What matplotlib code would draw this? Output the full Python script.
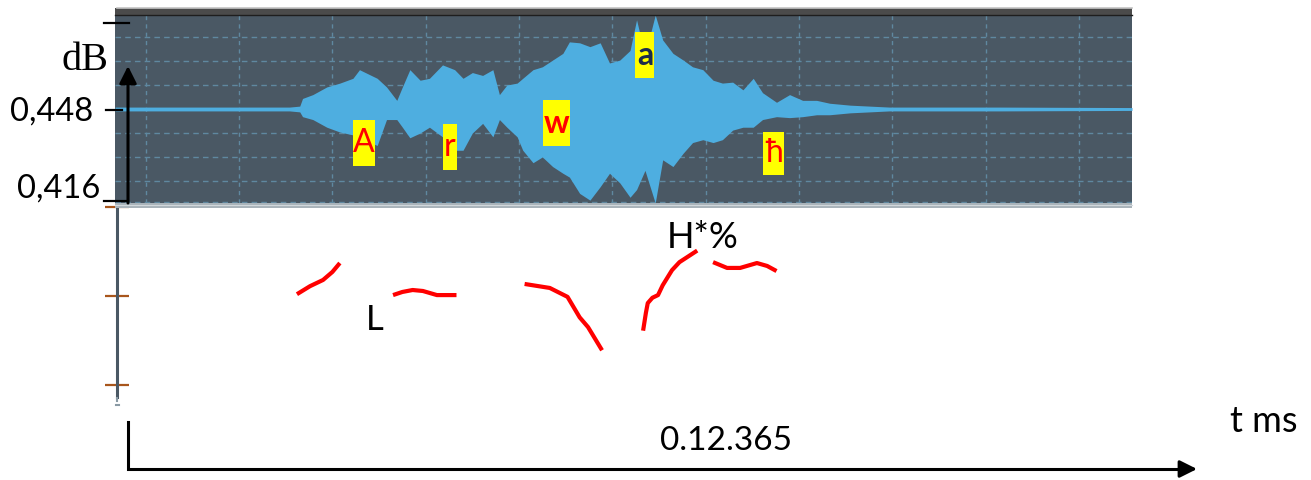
import matplotlib
matplotlib.use("Agg")
import matplotlib.pyplot as plt
from matplotlib.patches import Rectangle

W, H, DPI = 1311, 480, 100

# waveform envelope (time in ms, normalised amplitude)
wave_t = [-33, 58, 154, 165, 168, 179, 194, 208, 222, 229, 248, 258, 269, 275, 283,
          294, 304, 318, 331, 340, 350, 361, 372, 379, 387, 398, 404, 415, 425, 436,
          447, 454, 465, 476, 487, 497, 508, 519, 526, 535, 546, 554, 565, 576, 586,
          597, 608, 618, 629, 640, 651, 661, 676, 690, 704, 719, 733, 755, 776, 797,
          819, 915, 1057]
wave_hi = [0.02, 0.02, 0.02, 0.03, 0.11, 0.15, 0.23, 0.27, 0.32, 0.41, 0.32, 0.23, 0.09, 0.23, 0.41,
           0.30, 0.32, 0.46, 0.41, 0.32, 0.38, 0.35, 0.41, 0.15, 0.25, 0.27, 0.32, 0.41, 0.44, 0.51,
           0.58, 0.70, 0.69, 0.65, 0.69, 0.48, 0.51, 0.61, 0.93, 0.56, 0.98, 0.72, 0.58, 0.51, 0.44,
           0.41, 0.30, 0.27, 0.28, 0.20, 0.32, 0.17, 0.07, 0.15, 0.09, 0.09, 0.06, 0.04, 0.03, 0.02,
           0.02, 0.02, 0.015]
wave_lo = [-0.02, -0.02, -0.02, -0.03, -0.08, -0.11, -0.19, -0.24, -0.27, -0.30, -0.38, -0.11, -0.11, -0.19, -0.30,
           -0.25, -0.19, -0.29, -0.43, -0.43, -0.25, -0.15, -0.29, -0.11, -0.19, -0.29, -0.43, -0.56, -0.50, -0.60,
           -0.67, -0.71, -0.88, -0.95, -0.81, -0.67, -0.77, -0.92, -0.84, -0.64, -0.98, -0.53, -0.60, -0.46, -0.35,
           -0.32, -0.35, -0.32, -0.22, -0.19, -0.19, -0.11, -0.08, -0.09, -0.08, -0.06, -0.06, -0.04, -0.03, -0.02,
           -0.02, -0.02, -0.015]

# pitch track fragments (ms, Hz)
pitch_t = [
    [162, 176, 190, 200, 208],
    [265, 275, 286, 297, 312, 323, 333],
    [406, 433, 452, 465, 474, 489],
    [533, 536, 538, 543, 549, 554, 564, 572, 591],
    [608, 623, 637, 655, 666, 676],
]
pitch_hz = [
    [202, 211, 218, 227, 237],
    [201, 204.5, 206.7, 205.6, 201, 201, 201],
    [213.5, 209, 199, 176, 165, 139],
    [161, 181, 192, 198, 201, 212, 229, 238, 251],
    [238, 231.5, 231.5, 237, 233.7, 228],
]

phones = ["A", "r", "w", "a", "ħ"]
phone_t = [234, 326, 440, 535, 673]
phone_amp = [-0.35, -0.40, -0.15, 0.56, -0.46]
phone_colors = ["red", "red", "red", "#1c2c4c", "red"]
phone_weight = ["normal", "normal", "bold", "bold", "normal"]
phone_box_w = [23.6, 15, 29, 20.4, 22.5]  # ms
phone_box_h = [0.48, 0.48, 0.48, 0.48, 0.45]

grid_t = list(range(0, 1001, 100))
grid_amp = [-0.97, -0.75, -0.5, -0.25, 0, 0.25, 0.5, 0.75]
pitch_ticks = [100, 200, 300]


def box(x0, y0, x1, y1):
    return [x0 / W, 1 - y1 / H, (x1 - x0) / W, (y1 - y0) / H]


fig = plt.figure(figsize=(W / DPI, H / DPI), dpi=DPI)
fig.patch.set_facecolor("white")
sans = ["Lato", "DejaVu Sans"]

# waveform panel
ax = fig.add_axes(box(115, 15, 1132, 203))
ax.set_facecolor("#4a5864")
ax.set_xlim(-33, 1057)
ax.set_ylim(-0.98, 0.98)
for t in grid_t:
    ax.axvline(t, color="#5f88a0", lw=1, dashes=(3, 3), zorder=1)
for a in grid_amp:
    ax.axhline(a, color="#5f88a0", lw=1, dashes=(4, 3), zorder=1)
ax.fill_between(wave_t, wave_lo, wave_hi, color="#4eaee0", lw=0, zorder=2)
for s, t, a, c, fw, bw, bh in zip(phones, phone_t, phone_amp, phone_colors,
                                  phone_weight, phone_box_w, phone_box_h):
    ax.add_patch(Rectangle((t - bw / 2, a - bh / 2), bw, bh, color="yellow", lw=0, zorder=3))
    ax.text(t, a, s, color=c, fontsize=23, family=sans, weight=fw,
            ha="center", va="center", zorder=4)
ax.set_xticks([])
ax.set_yticks([])
for sp in ax.spines.values():
    sp.set_visible(False)

# pitch panel
axp = fig.add_axes(box(115, 205, 1132, 397))
axp.set_facecolor("none")
axp.set_xlim(-33, 1057)
axp.set_ylim(86.5, 302.2)
for t, hz in zip(pitch_t, pitch_hz):
    axp.plot(t, hz, color="red", lw=3, solid_capstyle="butt")
axp.text(245, 173, "L", fontsize=25, family=sans, ha="center", va="center")
axp.text(597, 266, "H*%", fontsize=26, family=sans, ha="center", va="center")
for k in ["top", "right", "bottom"]:
    axp.spines[k].set_visible(False)
axp.spines["left"].set_color("#4a5864")
axp.spines["left"].set_linewidth(2.2)
axp.spines["left"].set_position(("outward", -1.5))
axp.set_yticks(pitch_ticks)
axp.set_yticklabels([])
axp.set_xticks([])
axp.tick_params(axis="y", direction="inout", length=17, width=1.6, color="#a8561c")

# overlay for the hand-drawn axes and labels (pixel coordinates)
ov = fig.add_axes([0, 0, 1, 1], zorder=10)
ov.set_xlim(0, W)
ov.set_ylim(H, 0)
ov.axis("off")
ov.patch.set_visible(False)

ov.add_patch(Rectangle((115, 8), 1017, 7, color="#4b4b4b", lw=0))
ov.plot([117, 1132], [7.5, 7.5], color="#c4c4c4", lw=1.2)
ov.plot([115, 1132], [15, 15], color="#1e1e1e", lw=1)
ov.add_patch(Rectangle((115, 203), 1017, 5, color="#a9b3ba", lw=0))
ov.plot([115, 1132], [205, 205], color="#d2d8dc", lw=0.8)

for y, x0, x1 in [(22.5, 104, 129), (110, 106, 122), (201, 104, 128)]:
    ov.plot([x0, x1], [y, y], color="black", lw=1.6)
ov.annotate("", xy=(128, 66), xytext=(128, 203),
            arrowprops=dict(arrowstyle="-|>", lw=2.2, color="black",
                            mutation_scale=26, shrinkA=0, shrinkB=0))
ov.text(93, 112, "0,448", fontsize=23.5, family=sans, ha="right", va="center")
ov.text(100, 189, "0,416", fontsize=23.5, family=sans, ha="right", va="center")
ov.text(85, 61, "dB", fontsize=29, family="Liberation Serif", ha="center", va="center")

ov.plot([117, 117], [398, 401], color="#8a9aa4", lw=1.5)
ov.plot([116, 119], [405, 405], color="#8a9aa4", lw=1.5)

ov.plot([128, 128, 1185], [422, 469, 469], color="black", lw=2.2, solid_joinstyle="miter")
ov.annotate("", xy=(1197, 469), xytext=(1180, 469),
            arrowprops=dict(arrowstyle="-|>", lw=2.2, color="black",
                            mutation_scale=26, shrinkA=0, shrinkB=0))
ov.text(726, 441, "0.12.365", fontsize=24, family=sans, ha="center", va="center")
ov.text(1264, 421, "t ms", fontsize=26, family=sans, ha="center", va="center")

fig.savefig("out.png", dpi=DPI)
